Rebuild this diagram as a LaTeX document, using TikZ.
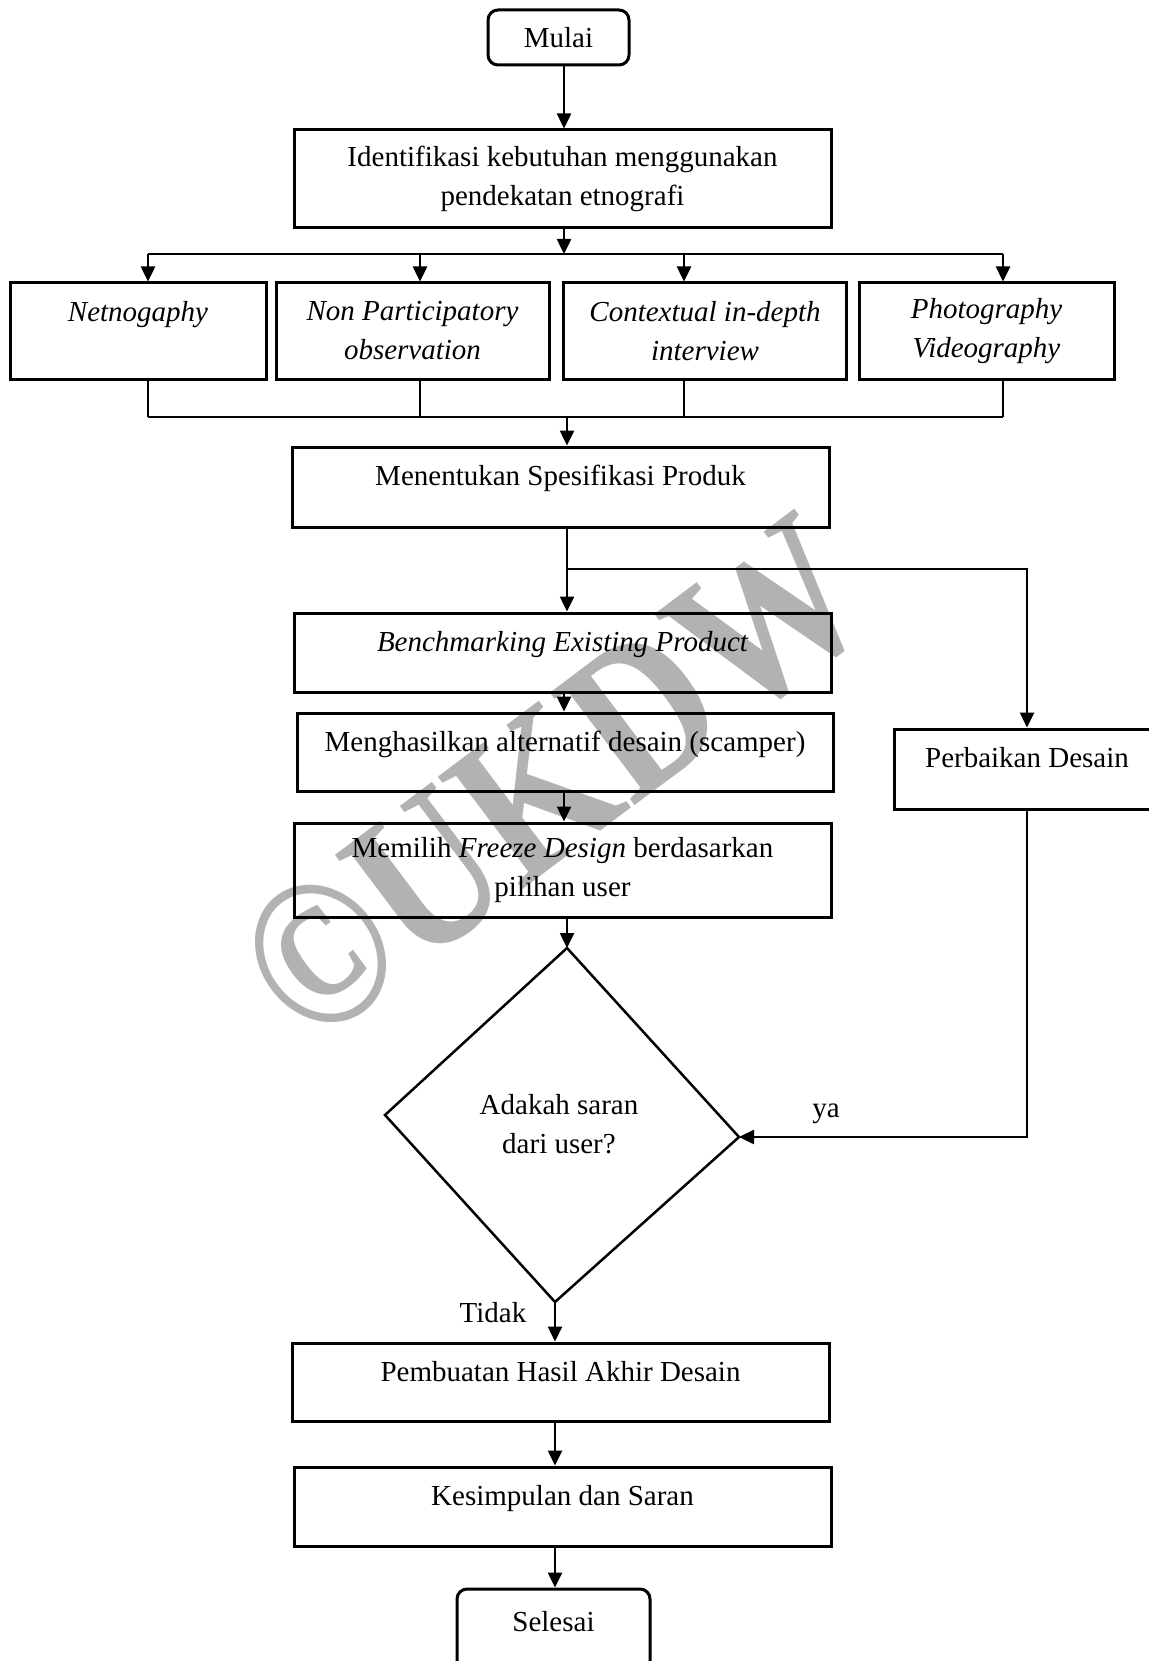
\documentclass[tikz,border=0pt]{standalone}
\usepackage{fontspec}
\setmainfont{Liberation Serif}
\usetikzlibrary{arrows.meta}

\tikzset{
  every node/.style={font=\fontsize{29}{39}\selectfont},
  ital/.style={font=\fontsize{29}{39}\selectfont\itshape},
  box/.style={draw, line width=3pt, inner sep=0pt, align=center},
  topbox/.style={box, text height=38pt, text depth=#1},
  endbox/.style={box, rounded corners=10pt},
  line/.style={line width=2.5pt},
  arr/.style={line, -{Triangle[length=15pt,width=14pt]}},
}

\begin{document}
\begin{tikzpicture}[x=1pt,y=-1pt]
\useasboundingbox (0,0) rectangle (1148,1661);

% watermark
\node[text=black!30, font=\fontsize{215}{215}\selectfont\bfseries, rotate=37, xscale=0.84] (mark) at (553,780) {\textcopyright UKDW};

% boxes
\node[endbox, minimum width=141pt, minimum height=55pt] (mulai) at (558.5,37.5) {Mulai};
\node[box, minimum width=537pt, minimum height=98pt] (ident) at (562.5,179) {Identifikasi kebutuhan menggunakan\\pendekatan etnografi};

\node[topbox=58pt, ital, minimum width=256pt] (netno) at (138,331) {Netnogaphy};
\node[box, ital, minimum width=273pt, minimum height=96pt] (nonpart) at (412.5,331) {Non Participatory\\observation};
\node[box, ital, minimum width=283pt, minimum height=96pt] (ctx) at (705,331) {Contextual in-depth\\interview};
\node[box, ital, minimum width=255pt, minimum height=96pt] (photo) at (986.5,331) {Photography\\Videography};

\node[topbox=42pt, minimum width=537pt] (spec) at (560.5,487) {Menentukan Spesifikasi Produk};
\node[topbox=41pt, ital, minimum width=537pt] (bench) at (562.5,652.5) {Benchmarking Existing Product};
\node[topbox=40pt, minimum width=536pt] (alt) at (565,752) {Menghasilkan alternatif desain (scamper)};
\node[box, minimum width=537pt, minimum height=94pt] (freeze) at (562.5,870) {Memilih \textit{Freeze Design} berdasarkan\\pilihan user};
\node[topbox=42pt, minimum width=266pt] (perb) at (1027,769) {Perbaikan Desain};

% decision
\coordinate (dtop) at (567,948);
\coordinate (dleft) at (385,1115);
\coordinate (dright) at (739,1137);
\coordinate (dbot) at (555,1302);
\draw[line] (dtop) -- (dright) -- (dbot) -- (dleft) -- cycle;
\node[align=center] (ask) at (559,1124) {Adakah saran\\dari user?};

\node[topbox=40pt, minimum width=537pt] (pemb) at (560.5,1382) {Pembuatan Hasil Akhir Desain};
\node[topbox=41pt, minimum width=537pt] (kes) at (562.5,1506.5) {Kesimpulan dan Saran};
\node[endbox, text height=42pt, text depth=40pt, minimum width=193pt] (selesai) at (553.5,1630) {Selesai};

\node (ya) at (826,1114) {ya};
\node (tidak) at (493,1313) {Tidak};

% connectors
\coordinate (spine) at (564,0);
\coordinate (bus) at (564,254);
\coordinate (b1) at (148,254);
\coordinate (b2) at (420,254);
\coordinate (b3) at (684,254);
\coordinate (b4) at (1003,254);
\coordinate (lowbus) at (567,417);
\coordinate (split) at (567,569);

\draw[arr] (mulai.south -| spine) -- (ident.north -| spine);
\draw[arr] (ident.south -| bus) -- (bus);
\draw[line] (b1) -- (b4);
\foreach \b/\n in {b1/netno, b2/nonpart, b3/ctx, b4/photo}{
  \draw[arr] (\b) -- (\b |- \n.north);
  \draw[line] (\n.south -| \b) -- (\b |- lowbus);
}
\draw[line] (b1 |- lowbus) -- (b4 |- lowbus);
\draw[arr] (lowbus) -- (spec.north -| lowbus);

\draw[line] (spec.south -| split) -- (split);
\draw[arr] (split) -- (bench.north -| split);
\draw[arr] (split) -| (perb.north);
\draw[arr] (bench.south -| spine) -- (alt.north -| spine);
\draw[arr] (alt.south -| spine) -- (freeze.north -| spine);
\draw[arr] (freeze.south -| dtop) -- (dtop);

\draw[arr] (perb.south) -- (perb.south |- dright) -- (dright);
\draw[arr] (dbot) -- (pemb.north -| dbot);
\draw[arr] (pemb.south -| dbot) -- (kes.north -| dbot);
\draw[arr] (kes.south -| dbot) -- (selesai.north -| dbot);
\end{tikzpicture}
\end{document}
